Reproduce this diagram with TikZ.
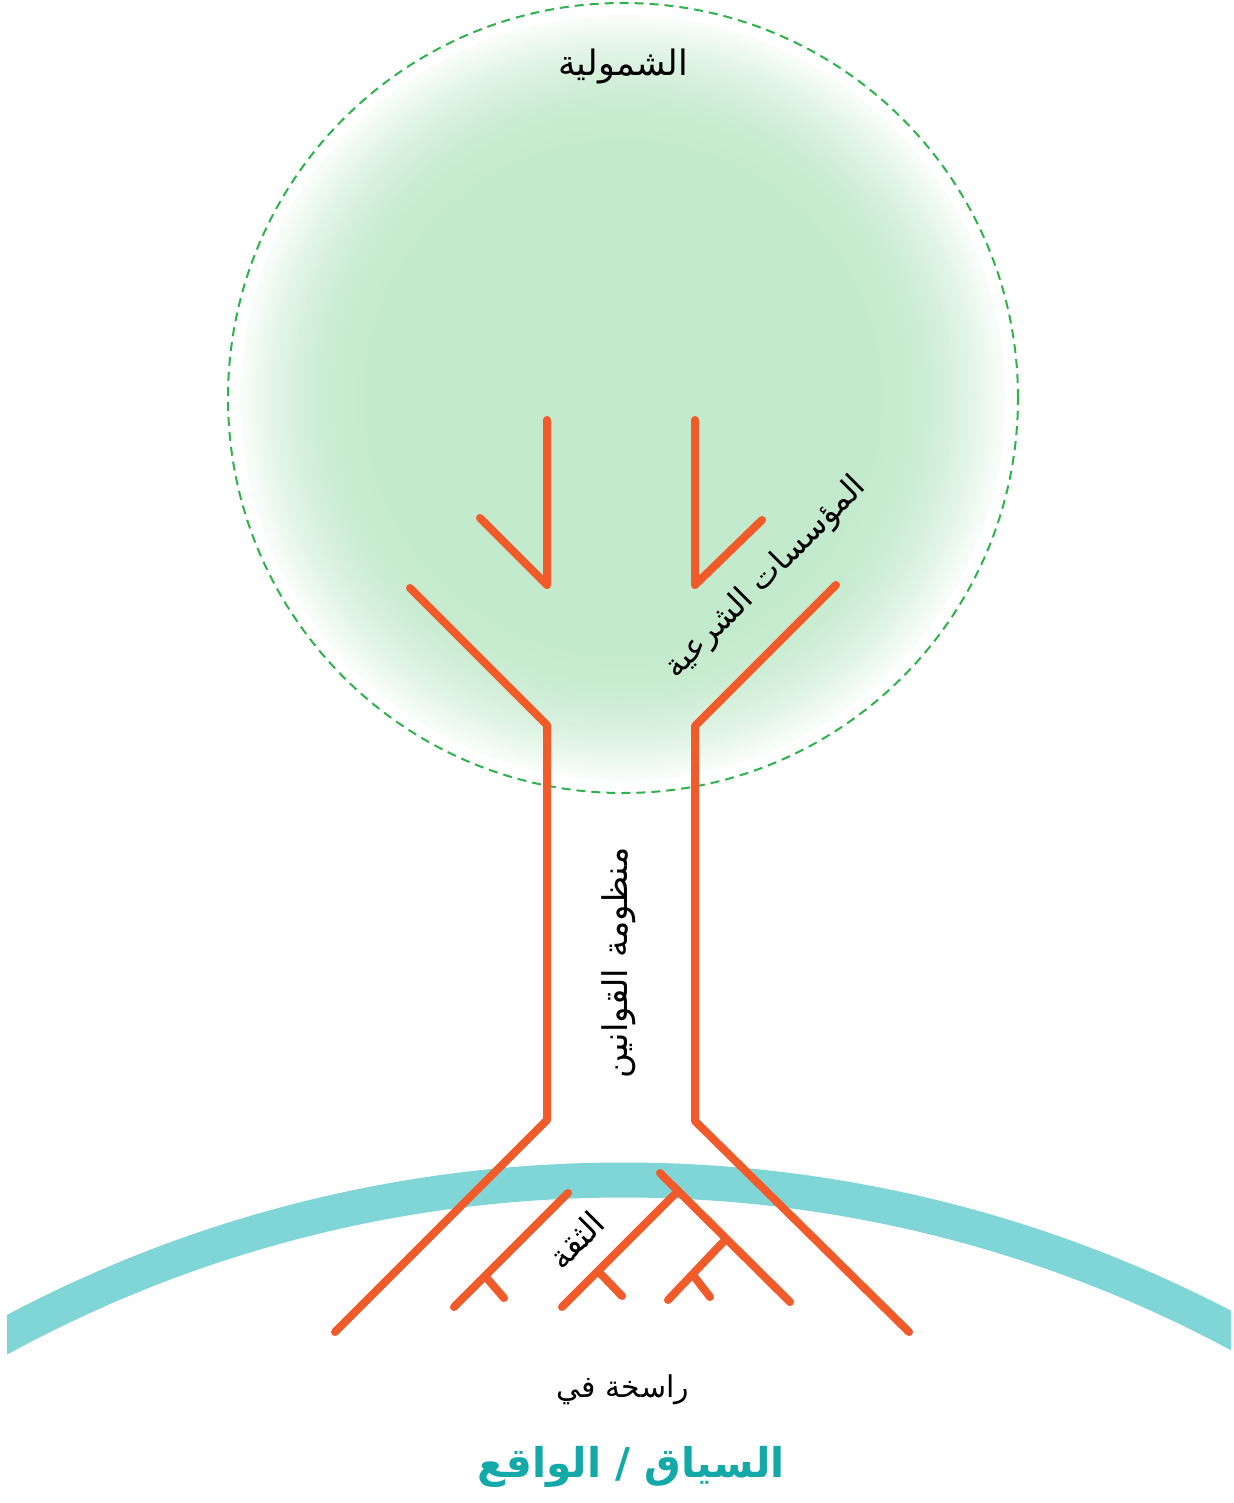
\documentclass[tikz,border=0pt]{standalone}
\usepackage{fontspec}
\newfontfamily\arabicfont[Script=Arabic]{DejaVu Sans}
\TeXXeTstate=1
\definecolor{orng}{HTML}{F15A29}
\definecolor{tealband}{HTML}{80D5D6}
\definecolor{tealtext}{HTML}{12A9A8}
\definecolor{gin}{HTML}{C4EACD}
\definecolor{gdash}{HTML}{2EB24B}
\begin{document}
\begin{tikzpicture}[x=1pt,y=-1pt,
  branch/.style={draw=orng,line width=8pt,line cap=round,line join=round},
  lbl/.style={font=\arabicfont\fontsize{#1}{#1}\selectfont,inner sep=0pt,text=black},
  biglbl/.style={font=\arabicfont\bfseries\fontsize{41}{46}\selectfont,inner sep=0pt,text=tealtext}]
\useasboundingbox (0,0) rectangle (1233,1503);
\fill[white] (0,0) rectangle (1233,1503);
% glow
\foreach \r in {383,381,...,240} {
  \pgfmathsetmacro\s{min(1,(383-\r)/135)}
  \pgfmathsetmacro\t{8+92*(1-(1-\s)*(1-\s))}
  \fill[gin!\t!white] (623,398) circle[radius=\r pt];
}
\coordinate (ctr) at (623,398);
\draw[gdash,line width=2pt,dash pattern=on 9pt off 6pt] (ctr) circle[radius=395pt];
% ground band
\begin{scope}
  \clip (7,0) rectangle (1231,1503);
  \coordinate (gc) at (623,2481.5);
  \draw[tealband,line width=35pt] (gc) circle[radius=1301.5pt];
\end{scope}
% top V's
\coordinate (vl1) at (547,420); \coordinate (vl2) at (547,585); \coordinate (vl3) at (480,518);
\coordinate (vr1) at (695,420); \coordinate (vr2) at (695,585); \coordinate (vr3) at (762,520);
\draw[branch] (vl1) -- (vl2) -- (vl3);
\draw[branch] (vr1) -- (vr2) -- (vr3);
% trunk
\coordinate (l1) at (410,588); \coordinate (l2) at (547,725); \coordinate (l3) at (547,1120); \coordinate (l4) at (335,1332);
\coordinate (r1) at (836,585); \coordinate (r2) at (695,726); \coordinate (r3) at (695,1121); \coordinate (r4) at (909,1332);
\draw[branch] (l1) -- (l2) -- (l3) -- (l4);
\draw[branch] (r1) -- (r2) -- (r3) -- (r4);
% roots
\coordinate (a1) at (568,1193); \coordinate (a2) at (454,1307);
\coordinate (a3) at (485,1276); \coordinate (a4) at (504,1298);
\draw[branch] (a1) -- (a2); \draw[branch] (a3) -- (a4);
\coordinate (b1) at (660,1173); \coordinate (b2) at (790,1302);
\draw[branch] (b1) -- (b2);
\coordinate (c1) at (678,1191); \coordinate (c2) at (562,1307);
\coordinate (c3) at (598,1271); \coordinate (c4) at (622,1296);
\draw[branch] (c1) -- (c2); \draw[branch] (c3) -- (c4);
\coordinate (d1) at (726,1239); \coordinate (d2) at (668,1300);
\coordinate (d3) at (693,1275); \coordinate (d4) at (710,1297);
\draw[branch] (d1) -- (d2); \draw[branch] (d3) -- (d4);
% labels
\node[lbl=35] (title) at (623,66) {\beginR الشمولية\endR};
\node[lbl=32,rotate=45] (inst) at (766,578) {\beginR المؤسسات الشرعية\endR};
\node[lbl=34,rotate=90] (laws) at (619,963) {\beginR منظومة القوانين\endR};
\node[lbl=33,rotate=45] (trust) at (576,1240) {\beginR الثقة\endR};
\node[lbl=30] (rooted) at (623,1390) {\beginR راسخة في\endR};
\node[biglbl] (context) at (631,1467) {\beginR السياق / الواقع\endR};
\end{tikzpicture}
\end{document}
